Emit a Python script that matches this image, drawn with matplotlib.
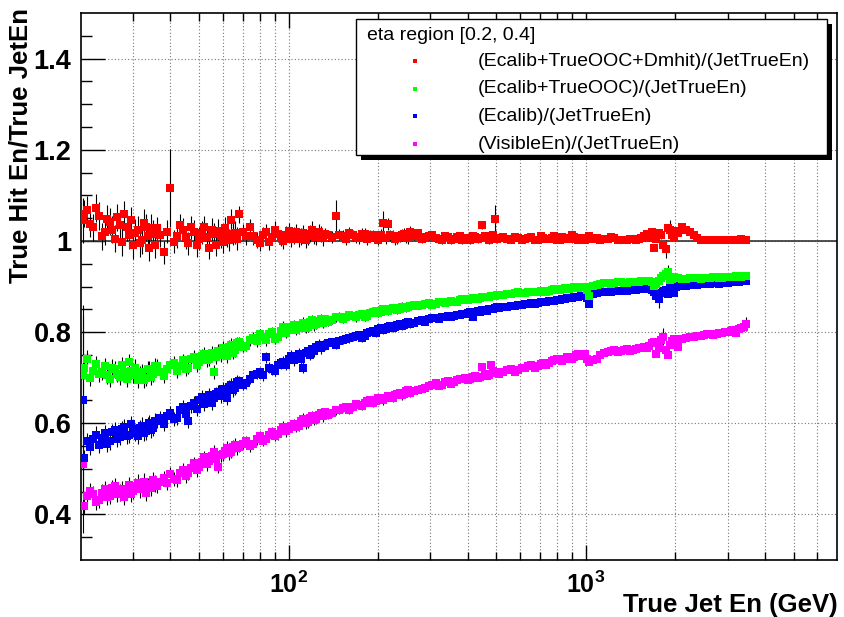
import numpy as np
import matplotlib
matplotlib.use('Agg')
import matplotlib.pyplot as plt
from matplotlib.patches import Rectangle
from matplotlib.lines import Line2D

plt.rcParams['font.family'] = ['Liberation Sans', 'DejaVu Sans']
plt.rcParams['mathtext.fontset'] = 'custom'
plt.rcParams['mathtext.rm'] = 'Liberation Sans'
plt.rcParams['mathtext.bf'] = 'Liberation Sans:bold'

# bin centres (GeV)
jet_en = [20.3, 20.5, 21, 21.5, 22, 22.5, 23, 23.5, 24, 24.5, 25, 25.5, 26, 26.5, 27, 27.5,
          28, 28.5, 29, 29.5, 30, 30.5, 31, 31.5, 32, 32.5, 33, 33.5, 34, 34.5, 35, 35.5,
          36, 37, 38, 39, 40, 41, 42, 43, 44, 45, 46, 47, 48, 49, 50, 51,
          52, 53, 54, 55, 56, 57, 58, 59, 60, 61, 62, 63, 64, 65, 66, 67,
          68, 70, 72, 74, 76, 78, 80, 82, 84, 86, 88, 90, 92, 94, 96, 98,
          100, 102, 104, 106, 108, 110, 112, 114, 116, 118, 120, 122, 124, 126, 128, 130,
          132, 136, 140, 144, 148, 152, 156, 160, 164, 168, 172, 176, 180, 184, 188, 192,
          196, 200, 204, 208, 212, 216, 220, 224, 228, 232, 236, 240, 244, 248, 252, 256,
          264, 272, 280, 288, 296, 304, 312, 320, 328, 336, 344, 352, 360, 368, 376, 384,
          392, 400, 408, 416, 424, 432, 440, 448, 456, 464, 472, 480, 488, 496, 504, 512,
          528, 544, 560, 576, 592, 608, 624, 640, 656, 672, 688, 704, 720, 736, 752, 768,
          784, 800, 816, 832, 848, 864, 880, 896, 912, 928, 944, 960, 976, 992, 1008, 1024,
          1056, 1088, 1120, 1152, 1184, 1216, 1248, 1280, 1312, 1344, 1376, 1408, 1440, 1472, 1504, 1536,
          1568, 1600, 1632, 1664, 1696, 1728, 1760, 1792, 1824, 1856, 1888, 1920, 1952, 1984, 2016, 2048,
          2112, 2176, 2240, 2304, 2368, 2432, 2496, 2560, 2624, 2688, 2752, 2816, 2880, 2944, 3008, 3072,
          3136, 3200, 3264, 3328, 3392, 3456]

ratio_full = [1.045, 1.060, 1.068, 1.038, 1.030, 1.072, 1.055, 1.010, 1.020, 1.048, 1.042, 1.025, 1.005, 1.052, 1.035, 0.998,
              1.058, 1.030, 1.012, 1.045, 0.990, 1.018, 1.025, 0.995, 1.002, 1.040, 1.030, 1.010, 0.985, 1.028, 1.015, 0.992,
              1.028, 1.012, 0.975, 1.020, 1.116, 0.998, 1.010, 1.035, 1.025, 1.008, 0.995, 1.030, 1.020, 0.990, 1.005, 1.018,
              1.030, 1.008, 0.985, 1.025, 1.015, 0.992, 1.022, 1.010, 0.998, 1.028, 1.012, 1.002, 1.045, 1.015, 1.018, 1.005,
              1.058, 1.020, 1.010, 1.030, 1.010, 1.002, 0.995, 1.012, 1.020, 0.998, 1.008, 1.025, 1.015, 1.006, 1.000, 1.014,
              1.022, 1.004, 1.012, 1.020, 1.005, 1.010, 1.018, 1.002, 1.010, 1.016, 1.025, 1.012, 1.008, 1.020, 1.015, 1.006,
              1.016, 1.012, 1.008, 1.055, 1.014, 1.010, 1.004, 1.018, 1.012, 1.008, 1.006, 1.015, 1.016, 1.005, 1.010, 1.012,
              1.008, 1.003, 1.014, 1.040, 1.006, 1.038, 1.012, 1.010, 1.004, 1.006, 1.010, 1.013, 1.015, 1.008, 1.006, 1.020,
              1.010, 1.018, 1.004, 1.008, 1.010, 1.012, 1.006, 1.005, 1.002, 1.010, 1.008, 1.003, 1.005, 1.008, 1.010, 1.002,
              1.004, 1.006, 1.002, 1.010, 1.008, 1.004, 1.006, 1.035, 1.010, 1.008, 1.003, 1.005, 1.012, 1.048, 1.004, 1.006,
              1.008, 1.004, 1.003, 1.008, 1.006, 1.002, 1.004, 1.006, 1.008, 1.003, 1.002, 1.010, 1.006, 1.004, 1.004, 1.007,
              1.010, 1.003, 1.003, 1.008, 1.006, 1.005, 1.004, 1.012, 1.008, 1.004, 1.003, 1.006, 1.005, 1.002, 1.004, 1.010,
              1.004, 1.006, 1.003, 1.004, 1.005, 1.008, 1.006, 1.003, 1.003, 1.002, 1.002, 1.004, 1.005, 1.003, 1.004, 1.006,
              1.010, 1.015, 1.008, 1.020, 0.985, 1.004, 1.018, 1.012, 0.990, 0.982, 1.028, 1.025, 1.012, 1.008, 1.022, 1.018,
              1.030, 1.025, 1.020, 1.012, 1.006, 1.003, 1.002, 1.002, 1.002, 1.001, 1.001, 1.002, 1.002, 1.001, 1.001, 1.002,
              1.003, 1.001, 1.002, 1.004, 1.003, 1.002]

ratio_ooc = [0.705, 0.722, 0.742, 0.700, 0.715, 0.730, 0.708, 0.712, 0.725, 0.705, 0.698, 0.722, 0.718, 0.708, 0.702, 0.728,
             0.712, 0.698, 0.735, 0.715, 0.706, 0.722, 0.695, 0.708, 0.712, 0.695, 0.700, 0.718, 0.718, 0.702, 0.708, 0.725,
             0.725, 0.712, 0.703, 0.720, 0.728, 0.732, 0.715, 0.725, 0.738, 0.718, 0.722, 0.740, 0.745, 0.728, 0.735, 0.748,
             0.752, 0.738, 0.740, 0.755, 0.712, 0.745, 0.758, 0.750, 0.765, 0.756, 0.748, 0.768, 0.772, 0.755, 0.760, 0.775,
             0.778, 0.768, 0.770, 0.782, 0.788, 0.780, 0.795, 0.790, 0.782, 0.795, 0.800, 0.785, 0.790, 0.802, 0.812, 0.798,
             0.805, 0.812, 0.815, 0.805, 0.808, 0.816, 0.820, 0.810, 0.812, 0.822, 0.826, 0.815, 0.818, 0.825, 0.828, 0.820,
             0.828, 0.822, 0.826, 0.832, 0.834, 0.828, 0.832, 0.838, 0.836, 0.832, 0.838, 0.840, 0.834, 0.836, 0.842, 0.845,
             0.846, 0.842, 0.844, 0.850, 0.848, 0.846, 0.850, 0.852, 0.853, 0.849, 0.851, 0.856, 0.855, 0.853, 0.856, 0.858,
             0.859, 0.857, 0.860, 0.862, 0.863, 0.860, 0.862, 0.866, 0.866, 0.864, 0.867, 0.869, 0.866, 0.867, 0.870, 0.872,
             0.872, 0.871, 0.873, 0.875, 0.874, 0.873, 0.875, 0.877, 0.878, 0.876, 0.877, 0.880, 0.880, 0.879, 0.881, 0.882,
             0.882, 0.883, 0.884, 0.886, 0.887, 0.885, 0.886, 0.888, 0.889, 0.887, 0.888, 0.890, 0.891, 0.889, 0.890, 0.892,
             0.894, 0.893, 0.893, 0.895, 0.896, 0.894, 0.895, 0.897, 0.898, 0.896, 0.897, 0.899, 0.899, 0.898, 0.892, 0.880,
             0.901, 0.903, 0.905, 0.908, 0.907, 0.906, 0.907, 0.909, 0.909, 0.908, 0.908, 0.910, 0.910, 0.909, 0.910, 0.911,
             0.911, 0.912, 0.912, 0.910, 0.902, 0.905, 0.912, 0.918, 0.922, 0.928, 0.932, 0.915, 0.917, 0.920, 0.919, 0.918,
             0.916, 0.917, 0.919, 0.918, 0.918, 0.917, 0.918, 0.919, 0.919, 0.920, 0.920, 0.918, 0.919, 0.921, 0.921, 0.920,
             0.921, 0.922, 0.922, 0.921, 0.922, 0.923]

ratio_ecalib = [0.650, 0.523, 0.560, 0.548, 0.565, 0.575, 0.552, 0.568, 0.578, 0.555, 0.560, 0.580, 0.585, 0.565, 0.570, 0.588,
                0.592, 0.572, 0.575, 0.598, 0.588, 0.580, 0.572, 0.590, 0.595, 0.578, 0.582, 0.595, 0.600, 0.585, 0.590, 0.605,
                0.605, 0.612, 0.598, 0.615, 0.622, 0.610, 0.612, 0.628, 0.635, 0.620, 0.605, 0.638, 0.645, 0.632, 0.650, 0.658,
                0.642, 0.650, 0.662, 0.645, 0.655, 0.665, 0.668, 0.660, 0.676, 0.672, 0.655, 0.680, 0.685, 0.672, 0.678, 0.690,
                0.692, 0.685, 0.688, 0.698, 0.705, 0.708, 0.712, 0.705, 0.745, 0.722, 0.718, 0.715, 0.728, 0.732, 0.735, 0.728,
                0.742, 0.748, 0.738, 0.745, 0.752, 0.740, 0.722, 0.755, 0.758, 0.750, 0.762, 0.758, 0.768, 0.772, 0.765, 0.770,
                0.770, 0.775, 0.778, 0.772, 0.780, 0.782, 0.784, 0.786, 0.790, 0.792, 0.794, 0.788, 0.792, 0.797, 0.800, 0.802,
                0.798, 0.806, 0.808, 0.804, 0.806, 0.812, 0.814, 0.810, 0.812, 0.816, 0.818, 0.814, 0.816, 0.820, 0.822, 0.818,
                0.820, 0.824, 0.826, 0.822, 0.828, 0.830, 0.830, 0.828, 0.832, 0.834, 0.835, 0.832, 0.836, 0.838, 0.838, 0.840,
                0.840, 0.842, 0.843, 0.832, 0.844, 0.846, 0.845, 0.848, 0.848, 0.846, 0.850, 0.851, 0.850, 0.853, 0.854, 0.852,
                0.854, 0.856, 0.857, 0.858, 0.859, 0.860, 0.861, 0.862, 0.863, 0.861, 0.864, 0.866, 0.866, 0.867, 0.868, 0.869,
                0.869, 0.870, 0.871, 0.872, 0.873, 0.874, 0.874, 0.875, 0.876, 0.877, 0.878, 0.879, 0.879, 0.880, 0.874, 0.862,
                0.884, 0.886, 0.887, 0.889, 0.889, 0.888, 0.890, 0.891, 0.891, 0.890, 0.891, 0.892, 0.892, 0.893, 0.894, 0.894,
                0.894, 0.895, 0.895, 0.893, 0.888, 0.880, 0.872, 0.885, 0.890, 0.893, 0.884, 0.898, 0.896, 0.886, 0.899, 0.900,
                0.901, 0.902, 0.903, 0.903, 0.904, 0.905, 0.905, 0.906, 0.906, 0.907, 0.907, 0.906, 0.907, 0.908, 0.908, 0.909,
                0.909, 0.910, 0.910, 0.911, 0.911, 0.912]

ratio_visible = [0.510, 0.418, 0.440, 0.452, 0.445, 0.428, 0.432, 0.448, 0.455, 0.438, 0.440, 0.458, 0.462, 0.445, 0.448, 0.455,
                 0.438, 0.450, 0.465, 0.445, 0.452, 0.462, 0.470, 0.455, 0.458, 0.472, 0.448, 0.462, 0.466, 0.458, 0.475, 0.468,
                 0.462, 0.472, 0.480, 0.468, 0.488, 0.478, 0.475, 0.490, 0.498, 0.485, 0.490, 0.502, 0.512, 0.498, 0.505, 0.515,
                 0.525, 0.510, 0.518, 0.528, 0.538, 0.522, 0.505, 0.530, 0.532, 0.540, 0.545, 0.535, 0.538, 0.548, 0.552, 0.545,
                 0.548, 0.555, 0.560, 0.550, 0.555, 0.565, 0.572, 0.562, 0.566, 0.575, 0.580, 0.572, 0.576, 0.585, 0.592, 0.582,
                 0.588, 0.595, 0.598, 0.592, 0.595, 0.604, 0.610, 0.600, 0.602, 0.612, 0.615, 0.608, 0.610, 0.618, 0.622, 0.615,
                 0.624, 0.618, 0.622, 0.628, 0.630, 0.634, 0.636, 0.630, 0.635, 0.642, 0.640, 0.638, 0.645, 0.648, 0.650, 0.644,
                 0.648, 0.655, 0.654, 0.650, 0.656, 0.660, 0.658, 0.656, 0.662, 0.665, 0.667, 0.661, 0.664, 0.670, 0.672, 0.666,
                 0.670, 0.674, 0.676, 0.678, 0.682, 0.685, 0.688, 0.681, 0.684, 0.690, 0.692, 0.686, 0.690, 0.694, 0.696, 0.698,
                 0.700, 0.695, 0.698, 0.702, 0.704, 0.700, 0.702, 0.724, 0.708, 0.703, 0.706, 0.728, 0.714, 0.712, 0.711, 0.708,
                 0.712, 0.716, 0.718, 0.712, 0.716, 0.721, 0.722, 0.725, 0.727, 0.722, 0.726, 0.731, 0.733, 0.728, 0.732, 0.736,
                 0.738, 0.740, 0.741, 0.737, 0.740, 0.745, 0.746, 0.742, 0.745, 0.750, 0.751, 0.748, 0.750, 0.753, 0.742, 0.735,
                 0.738, 0.742, 0.750, 0.755, 0.757, 0.758, 0.760, 0.756, 0.758, 0.761, 0.762, 0.759, 0.761, 0.763, 0.765, 0.766,
                 0.768, 0.764, 0.770, 0.775, 0.778, 0.752, 0.765, 0.782, 0.790, 0.760, 0.750, 0.772, 0.780, 0.785, 0.775, 0.768,
                 0.785, 0.788, 0.789, 0.790, 0.791, 0.792, 0.794, 0.795, 0.796, 0.793, 0.795, 0.798, 0.799, 0.800, 0.801, 0.802,
                 0.804, 0.798, 0.806, 0.808, 0.812, 0.818]

# typical error per block of bins
block_len = [32, 32, 32, 32, 32, 32, 32, 22]
err_full_block = [0.030, 0.025, 0.018, 0.013, 0.009, 0.007, 0.007, 0.004]
err_part_block = [0.018, 0.015, 0.012, 0.009, 0.006, 0.005, 0.006, 0.004]
# bins with much larger errors
err_full_big = {20.3: 0.05, 40: 0.085, 144: 0.035, 208: 0.025, 496: 0.03, 1856: 0.02, 1920: 0.02}
err_ooc_big = {20.3: 0.13, 1888: 0.015}
err_ecalib_big = {20.3: 0.21, 1760: 0.02}
err_visible_big = {20.3: 0.15, 1760: 0.02, 1824: 0.018, 3456: 0.015}

labels = ['(Ecalib+TrueOOC+Dmhit)/(JetTrueEn)', '(Ecalib+TrueOOC)/(JetTrueEn)',
          '(Ecalib)/(JetTrueEn)', '(VisibleEn)/(JetTrueEn)']
colors = ['#ff0000', '#00ff00', '#0000ee', '#ff00ff']


def make_err(block, big):
  err = np.repeat(block, block_len)
  for i, e in enumerate(jet_en):
    if e in big:
      err[i] = big[e]
  return err


fig = plt.figure(figsize=(8.44, 6.17), dpi=100)
ax = fig.add_axes([81/844, 1 - 560/617, (837-81)/844, (560-13)/617])
ax.set_xscale('log')
ax.set_xlim(20, 7000)
ax.set_ylim(0.3, 1.5)

minor_x = [30, 40, 50, 60, 70, 80, 90, 200, 300, 400, 500, 600, 700, 800, 900,
           2000, 3000, 4000, 5000, 6000]
ax.set_xticks([100, 1000])
ax.set_xticklabels([r'$\mathbf{10^{2}}$', r'$\mathbf{10^{3}}$'])
ax.set_xticks(minor_x, minor=True)
ax.set_xticklabels([], minor=True)
ax.set_yticks([0.4, 0.6, 0.8, 1.0, 1.2, 1.4])
ax.set_yticklabels(['0.4', '0.6', '0.8', '1', '1.2', '1.4'])
ax.set_yticks(np.arange(0.35, 1.5, 0.05), minor=True)
ax.tick_params(axis='both', which='both', direction='in', top=True, right=False)
ax.tick_params(axis='y', which='major', length=17, width=1, labelsize=19.5, pad=7)
ax.tick_params(axis='y', which='minor', length=8, width=1)
ax.tick_params(axis='x', which='major', length=11, width=1, labelsize=18, pad=8)
ax.tick_params(axis='x', which='minor', length=6, width=1)
for lab in ax.get_yticklabels():
  lab.set_fontweight('bold')

ax.grid(True, which='major', axis='both', color='#777777', linestyle=(0, (1, 2)), linewidth=0.8)
ax.grid(True, which='minor', axis='x', color='#777777', linestyle=(0, (1, 2)), linewidth=0.8)
ax.set_axisbelow(True)
ax.axhline(1.0, color='#333333', linewidth=1.2, zorder=1)

series = [(ratio_visible, err_part_block, err_visible_big, colors[3]),
          (ratio_ecalib, err_part_block, err_ecalib_big, colors[2]),
          (ratio_ooc, err_part_block, err_ooc_big, colors[1]),
          (ratio_full, err_full_block, err_full_big, colors[0])]
for y, block, big, c in series:
  ax.errorbar(jet_en, y, yerr=make_err(block, big), fmt='s', ms=5.6, mfc=c, mec=c,
              mew=0, ecolor='black', elinewidth=0.8, capsize=0, zorder=3)

for s in ax.spines.values():
  s.set_linewidth(1.2)

fig.text(21/844, 1 - 8/617, 'True Hit En/True JetEn', rotation=90, ha='center', va='top',
         fontsize=18.5, fontweight='bold')
fig.text(838/844, 1 - 605/617, 'True Jet En (GeV)', ha='right', va='center',
         fontsize=18.5, fontweight='bold')

# legend box with shadow, ROOT style
W, H = 844, 617
fig.add_artist(Rectangle((361/W, 1 - 160/H), (832-361)/W, (160-24)/H, transform=fig.transFigure,
                         facecolor='black', edgecolor='none', zorder=5))
fig.add_artist(Rectangle((356/W, 1 - 155/H), (827-356)/W, (155-19)/H, transform=fig.transFigure,
                         facecolor='white', edgecolor='black', linewidth=1, zorder=6))
fig.text(367/W, 1 - 35/H, 'eta region [0.2, 0.4]', ha='left', va='center', fontsize=14, zorder=7)
for i, (lab, c) in enumerate(zip(labels, colors)):
  yy = 1 - (61 + 27.7*i)/H
  fig.add_artist(Line2D([415/W], [yy], transform=fig.transFigure, marker='s', ms=3.5,
                        mfc=c, mec=c, mew=0, linestyle='none', zorder=7))
  fig.text(478/W, yy, lab, ha='left', va='center', fontsize=14, zorder=7)

fig.savefig('out.png', dpi=100)
